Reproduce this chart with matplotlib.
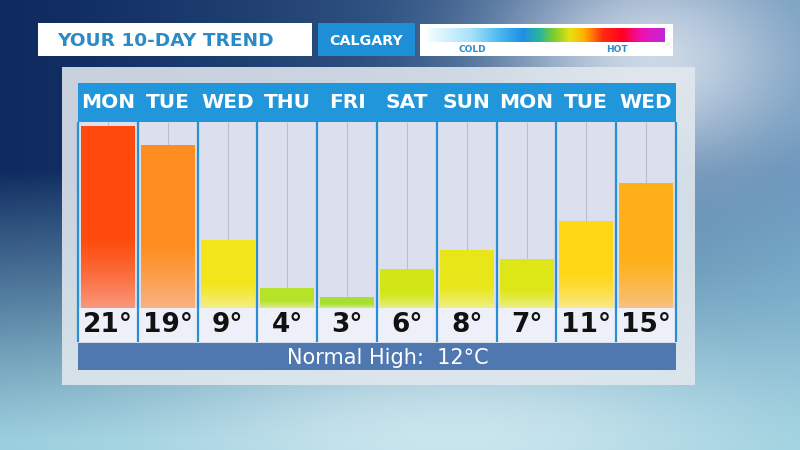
import numpy as np
import matplotlib
matplotlib.use("Agg")
import matplotlib.pyplot as plt
import matplotlib.patches as mpatches
import matplotlib.transforms as mtransforms
from matplotlib.colors import LinearSegmentedColormap, to_rgb

# ── Data ──────────────────────────────────────────────────────────────────────
days  = ['MON', 'TUE', 'WED', 'THU', 'FRI', 'SAT', 'SUN', 'MON', 'TUE', 'WED']
temps = [21, 19, 9, 4, 3, 6, 8, 7, 11, 15]
normal_high = 12
city  = 'CALGARY'
title = 'YOUR 10-DAY TREND'

# ── Style ─────────────────────────────────────────────────────────────────────
FONT      = 'DejaVu Sans'
HEAD_BLUE = '#2196da'
SEP_BLUE  = '#2a8fd2'
COL_BG    = '#dcdfee'
LBL_BG    = '#eef0f9'
NORM_BG   = '#4f78b0'
TITLE_COL = '#2b8bc4'

temp_cmap = LinearSegmentedColormap.from_list('temp', [
    (0.00, '#a8e030'), (0.17, '#d4e716'), (0.33, '#f2e61a'),
    (0.44, '#ffd816'), (0.67, '#ffb01a'), (0.89, '#ff8e20'), (1.00, '#ff4a0c')])
T_LO, T_HI = 3, 21

scale_cmap = LinearSegmentedColormap.from_list('scale', [
    (0.00, '#f4fcff'), (0.18, '#a8e2fa'), (0.30, '#4cb8f0'), (0.40, '#1f8fe6'),
    (0.47, '#28b4a0'), (0.53, '#7ccc30'), (0.60, '#e8e010'), (0.66, '#ffb000'),
    (0.74, '#ff2a10'), (0.82, '#ff0020'), (0.90, '#ee10b0'), (1.00, '#c028d8')])

W, H = 800, 450
fig = plt.figure(figsize=(8, 4.5), dpi=100)

# ── Background (pixel coordinates) ────────────────────────────────────────────
bg = fig.add_axes([0, 0, 1, 1])
bg.set_xlim(0, W)
bg.set_ylim(H, 0)
bg.axis('off')

yy, xx = np.mgrid[0:H, 0:W]
h = (xx / W)[..., None]
v = np.clip((yy - 170) / 270.0, 0, 1)[..., None] ** 0.9
dark   = np.array([14, 42, 95]) / 255.0
steel  = np.array([96, 142, 182]) / 255.0
bottom = np.array([150, 205, 220]) / 255.0
img = dark * (1 - h ** 1.3) + steel * h ** 1.3
img = img * (1 - v) + bottom * v
glow = np.exp(-(((xx - 650) / 150.0) ** 2 + ((yy - 60) / 110.0) ** 2))[..., None]
haze = np.exp(-(((xx - 450) / 300.0) ** 2 + ((yy - 430) / 90.0) ** 2))[..., None]
img = img * (1 - 0.75 * glow) + 0.75 * glow * np.array([0.96, 0.97, 0.99])
img = img * (1 - 0.65 * haze) + 0.65 * haze * np.array([0.90, 0.95, 0.97])
bg.imshow(np.clip(img, 0, 1), extent=(0, W, H, 0), aspect='auto', zorder=0)

# translucent panel
bg.add_patch(mpatches.Rectangle((62, 67), 633, 318, facecolor='#e2e8ee',
                                edgecolor='none', alpha=0.88, zorder=1))

# title boxes
bg.add_patch(mpatches.Rectangle((38, 23), 274, 33, facecolor='white', zorder=2))
bg.text(57, 40.5, title, color=TITLE_COL, fontsize=13.3, fontweight='bold',
        family=FONT, ha='left', va='center', zorder=3)
bg.add_patch(mpatches.Rectangle((318, 23), 97, 33, facecolor='#1e8fd6', zorder=2))
bg.text(366.5, 41, city, color='white', fontsize=10.3, fontweight='bold',
        family=FONT, ha='center', va='center', zorder=3)
bg.add_patch(mpatches.Rectangle((420, 24), 253, 32, facecolor='white', zorder=2))
grad = np.linspace(0, 1, 256)[None, :]
bg.imshow(grad, cmap=scale_cmap, extent=(428, 665, 42, 28), aspect='auto', zorder=3)
bg.text(472, 50, 'COLD', color=TITLE_COL, fontsize=6.5, fontweight='bold',
        family=FONT, ha='center', va='center', zorder=3)
bg.text(617, 50, 'HOT', color=TITLE_COL, fontsize=6.5, fontweight='bold',
        family=FONT, ha='center', va='center', zorder=3)

# header, label strip, normal-high strip
bg.add_patch(mpatches.Rectangle((78, 83), 598, 39, facecolor=HEAD_BLUE, zorder=2))
bg.add_patch(mpatches.Rectangle((78, 308), 598, 34, facecolor=LBL_BG, zorder=2))
bg.add_patch(mpatches.Rectangle((78, 343), 598, 27, facecolor=NORM_BG, zorder=2))
bg.text(388, 357.5, f'Normal High:  {normal_high}\u00b0C', color='white', fontsize=15,
        family=FONT, ha='center', va='center', zorder=3)

# ── Bar chart ─────────────────────────────────────────────────────────────────
ax = fig.add_axes([78 / W, (H - 308) / H, 598 / W, 186 / H])
ax.set_facecolor(COL_BG)
n = len(days)
x = np.arange(n)
y0, y1 = 1.84, 21.45
for s in ax.spines.values():
    s.set_visible(False)
ax.set_xticks([])
ax.set_yticks([])

# centre guide lines
ax.vlines(x, y0, y1, color='#b9bdcc', linewidth=0.8, zorder=1)

bars = ax.bar(x, np.array(temps) - y0, bottom=y0, width=0.9, zorder=2,
              color='none', edgecolor='none')
for b, t in zip(bars, temps):
    base = np.array(to_rgb(temp_cmap((t - T_LO) / (T_HI - T_LO))))
    ys = np.linspace(0, 1, 200)            # 0 = bar bottom, 1 = bar top
    f = np.clip((0.4 - ys) / 0.4, 0, 1) ** 1.3 * 0.6
    pale = np.array([0.95, 0.80, 0.78]) if t > 12 else np.array([0.96, 0.96, 0.84])
    col = base[None, :] * (1 - f[:, None]) + pale[None, :] * f[:, None]
    xl = b.get_x()
    im = ax.imshow(col[:, None, :], extent=(xl, xl + b.get_width(), y0, t),
                   origin='lower', aspect='auto', zorder=2)
    im.set_clip_path(b)
ax.set_xlim(-0.5, n - 0.5)
ax.set_ylim(y0, y1)

trans = mtransforms.blended_transform_factory(ax.transData, ax.transAxes)
# column separators (header bottom down through the label strip)
ax.vlines(np.arange(-0.5, n, 1.0), -0.183, 1.0, color=SEP_BLUE, linewidth=1.6,
          transform=trans, clip_on=False, zorder=4)

for xi, d, t in zip(x, days, temps):
    ax.text(xi, 1.105, d, transform=trans, ha='center', va='center', color='white',
            fontsize=14.5, fontweight='bold', family=FONT, clip_on=False)
    ax.text(xi, -0.092, f'{t}\u00b0', transform=trans, ha='center', va='center',
            color='#111111', fontsize=19, fontweight='bold', family=FONT, clip_on=False)

fig.savefig('out.png', dpi=100)
